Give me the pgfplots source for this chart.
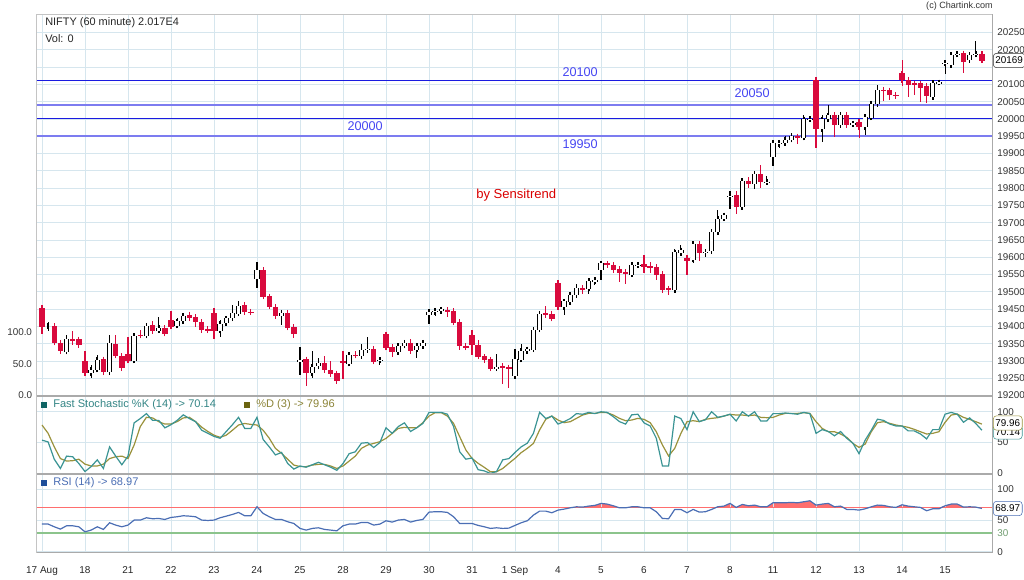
\documentclass[border=0pt]{standalone}
\usepackage{fontspec}
\setmainfont{Liberation Sans}
\usepackage{pgfplots}
\pgfplotsset{compat=1.18}
\usepackage{pgfplotstable}

\definecolor{candred}{HTML}{D90A3D}
\definecolor{gridblue}{HTML}{D6E6EE}
\definecolor{framegray}{HTML}{C4C4C4}
\definecolor{sepgray}{HTML}{AAAAAA}
\definecolor{levelblue}{HTML}{1A1AE0}
\definecolor{levellight}{HTML}{7C7CF0}
\definecolor{labelblue}{HTML}{4646F2}
\definecolor{kteal}{HTML}{3A9494}
\definecolor{dolive}{HTML}{9A923C}
\definecolor{ksquare}{HTML}{0F6464}
\definecolor{dsquare}{HTML}{6B6410}
\definecolor{rsiblue}{HTML}{4B6EB4}
\definecolor{rsisquare}{HTML}{1F4E9A}
\definecolor{obred}{HTML}{FF6E6E}
\definecolor{osgreen}{HTML}{8CC48C}
\definecolor{ticktext}{HTML}{333333}

% candles: i open high low close
\pgfplotstableread{
i o h l c
1 19401 19413 19386 19401
4 19327 19375 19326 19365
8 19264 19288 19251 19275
9 19275 19317 19269 19304
11 19267 19375 19259 19353
15 19301 19377 19299 19373
17 19373 19408 19370 19402
19 19388 19427 19384 19396
22 19402 19423 19400 19415
23 19415 19440 19409 19431
29 19388 19418 19370 19407
30 19410 19428 19406 19423
31 19423 19463 19421 19439
32 19437 19473 19432 19459
35 19536 19585 19510 19563
39 19431 19442 19404 19440
42 19296 19341 19259 19304
44 19264 19328 19251 19283
45 19284 19309 19278 19294
50 19292 19324 19290 19317
52 19314 19348 19310 19333
53 19334 19370 19322 19336
55 19301 19307 19288 19303
58 19325 19348 19322 19344
59 19344 19360 19342 19353
61 19333 19346 19309 19343
62 19343 19357 19341 19353
63 19432 19445 19406 19442
64 19441 19449 19429 19446
65 19444 19451 19442 19449
74 19278 19321 19273 19284
77 19256 19334 19254 19305
78 19304 19348 19302 19329
79 19328 19341 19323 19334
80 19333 19393 19331 19391
81 19391 19442 19387 19437
85 19456 19474 19432 19472
86 19471 19495 19469 19492
87 19490 19522 19488 19512
89 19509 19535 19495 19531
90 19530 19541 19519 19535
91 19564 19583 19533 19582
96 19550 19582 19548 19579
97 19578 19584 19572 19579
103 19505 19625 19503 19614
104 19612 19635 19606 19620
106 19593 19639 19582 19638
108 19614 19622 19601 19616
109 19618 19675 19615 19673
110 19672 19738 19670 19712
111 19712 19728 19709 19721
112 19776 19792 19741 19778
114 19745 19823 19741 19821
116 19811 19844 19796 19842
118 19818 19834 19817 19819
119 19890 19940 19863 19931
120 19928 19940 19917 19931
121 19930 19950 19927 19940
122 19940 19960 19938 19950
124 19946 20011 19943 19999
125 19999 20006 19996 20001
127 19970 20011 19934 19999
128 19999 20040 19992 20011
130 19982 20016 19979 20013
132 19985 19992 19977 19987
134 19977 20008 19955 20006
135 20004 20047 19997 20043
136 20043 20098 20040 20085
145 20064 20112 20061 20105
146 20105 20112 20102 20106
147 20160 20165 20130 20162
148 20156 20190 20149 20185
149 20186 20197 20180 20188
151 20170 20187 20161 20185
152 20186 20226 20182 20188
}\upcandles

\pgfplotstableread{
i o h l c
0 19452 19463 19379 19399
2 19402 19402 19346 19353
3 19353 19357 19326 19329
5 19363 19386 19346 19360
6 19363 19365 19341 19346
7 19301 19328 19257 19264
10 19305 19307 19264 19267
12 19350 19375 19312 19315
13 19315 19319 19276 19280
14 19321 19369 19296 19301
16 19376 19389 19367 19373
18 19404 19416 19384 19387
20 19396 19401 19377 19379
21 19418 19444 19396 19399
24 19434 19437 19420 19423
25 19427 19431 19399 19413
26 19413 19415 19382 19390
27 19392 19398 19384 19388
28 19439 19452 19365 19388
33 19463 19468 19440 19442
34 19443 19449 19437 19440
36 19563 19567 19481 19486
37 19487 19490 19450 19457
38 19457 19461 19423 19430
40 19440 19442 19392 19396
41 19398 19399 19367 19379
43 19305 19305 19228 19264
46 19294 19314 19271 19273
47 19273 19299 19259 19262
48 19264 19269 19232 19243
49 19300 19328 19249 19294
51 19318 19328 19312 19315
54 19336 19338 19293 19298
56 19377 19379 19336 19338
57 19340 19344 19312 19325
60 19353 19363 19326 19329
66 19447 19448 19427 19443
67 19445 19447 19408 19411
68 19413 19413 19333 19342
69 19343 19350 19331 19339
70 19375 19389 19316 19345
71 19347 19360 19307 19312
72 19313 19316 19297 19302
73 19305 19307 19275 19278
75 19285 19285 19233 19282
76 19282 19285 19223 19279
82 19439 19458 19425 19435
83 19437 19439 19420 19422
84 19526 19528 19453 19456
88 19511 19516 19493 19506
92 19582 19589 19572 19578
93 19578 19581 19553 19564
94 19566 19572 19529 19555
95 19557 19562 19524 19553
98 19580 19606 19555 19572
99 19574 19586 19555 19572
100 19572 19574 19533 19550
101 19553 19555 19497 19506
102 19510 19514 19492 19508
105 19599 19606 19548 19589
107 19638 19641 19589 19613
113 19779 19792 19726 19746
115 19820 19832 19801 19813
117 19840 19866 19801 19818
123 19950 19958 19929 19946
126 20114 20114 19915 19970
129 20011 20016 19949 19982
131 20011 20021 19975 19982
133 19992 19997 19944 19977
137 20085 20093 20053 20081
138 20083 20085 20056 20069
139 20070 20074 20059 20066
140 20132 20170 20095 20112
141 20114 20122 20064 20098
142 20103 20108 20069 20098
143 20103 20106 20050 20091
144 20095 20103 20045 20067
150 20190 20191 20134 20165
153 20188 20190 20164 20169
}\downcandles

% oscillators: i  %K  %D  RSI
\pgfplotstableread{
i k d r
0 54 78.5 44
1 51 65 44
2 23 43 39.7
3 8 24 36
4 28 20 41.3
5 27 20.6 41.3
6 16 23 39.7
7 3 15 31.7
8 11 12 34.4
9 22 12 39.7
10 8 15 35.5
11 43 24 46.1
12 28 27 42.4
13 14 28 39.7
14 28 24 42.4
15 82 46 50.4
16 89 76 50.4
17 97 91 54.1
18 86 90 52.5
19 86 84 53
20 74 80 51.4
21 79 80 54.6
22 86 84 55.7
23 95 90 57.3
24 89 91 56.7
25 84 84 55.7
26 70 75 50.4
27 65 68 49.8
28 60 62 50.4
29 57 58.5 54.1
30 68 62 56.7
31 79 70 59.4
32 91 78.5 62.6
33 73 81 57.3
34 73 79.5 57.3
35 91 78.5 71.6
36 55 70 61
37 43 57 55.7
38 30 40.6 51.4
39 34 32.5 51.4
40 16 23 47.7
41 7 13.5 45
42 12 11 37.1
43 10 11 34.4
44 14 13.5 37.1
45 18 14.6 38.1
46 14 14.6 35.5
47 10 12 34.4
48 5 8 33.3
49 16 12 41.3
50 32 20 44
51 35 28 44
52 49 40.6 46.6
53 50 46 46.6
54 42 48.7 42.4
55 50 51.4 44
56 74 56.8 49.3
57 65 64.9 47.2
58 76 73 50.4
59 82 74.7 51.4
60 68 74 47.2
61 74 74 49.8
62 81 82.3 51.4
63 99 93 63.1
64 99 98.5 63.7
65 99 98.5 63.7
66 96 93 62.6
67 76 81 55.7
68 35 59.5 45
69 23 38 45
70 25 24.4 45
71 6 16.3 41.9
72 4 9.8 39.7
73 0 2.7 37.1
74 3 2.7 38.1
75 22 8 37.1
76 24 16.3 37.6
77 34 24.4 41.9
78 43 33.6 46.1
79 49 40.6 49.3
80 65 48.7 58.3
81 99 70.4 64.7
82 89 87.7 64.7
83 93 93 62.1
84 80 86.6 66.3
85 84 82.3 67.9
86 89 83.9 70
87 97 89.3 71.6
88 96 94.7 71.1
89 99 97.4 72.7
90 97 97.4 73.8
91 100 99 77
92 99 98.5 75.9
93 92 94.7 73.2
94 84 89.3 70
95 80 85.5 70
96 95 86.6 71.6
97 96 89.3 71.6
98 82 87.7 70
99 77 82.3 70
100 57 67.6 63.7
101 12 46 53
102 12 28.2 52.5
103 93 40.6 67.4
104 89 64.9 67.4
105 71 83.9 62.1
106 100 85.5 67.4
107 84 84 63.1
108 87 87.7 63.7
109 100 89.3 67.4
110 91 90.4 71.6
111 93 93 72.7
112 96 95.8 77
113 85 94.7 70.6
114 100 94.7 75.4
115 93 93.6 73.2
116 100 94.7 74.3
117 85 90.9 71.6
118 85 90.4 71.6
119 97 90.9 78
120 97 94.7 78
121 98 97.4 78
122 97 97.4 78.6
123 96 97.4 78
124 99 98.5 79.6
125 97 97.4 81.2
126 65 83.9 74.3
127 71 73 75.9
128 68 67.6 77
129 61 67.6 71.6
130 68 63.9 72.7
131 57 58.5 67.4
132 49 48.7 67.4
133 32 42.2 66.3
134 54 47.6 68.4
135 70 67.6 71.6
136 88 82.3 74.3
137 86 83.9 73.8
138 80 81.2 71.6
139 77 78.5 70.6
140 77 76.8 74.8
141 69 74.7 72.7
142 69 71.4 71.6
143 64 67.6 70.6
144 56 63.9 65.3
145 71 65 68.4
146 71 67.6 68.4
147 96 82.8 73.2
148 99 94.7 75.9
149 96 96.3 75.9
150 83 90.9 71.1
151 90 87.7 71.6
152 81 83.9 71.1
153 70.14 79.96 68.97
}\osc

\pgfplotsset{
  panel/.style={
    scale only axis, width=717pt, anchor=north west,
    xmin=-0.86, xmax=154.76,
    xtick={0,7,...,147},
    major tick length=0pt, minor tick length=0pt,
    grid=major, major grid style={gridblue, line width=0.6pt},
    axis line style={framegray, line width=1pt},
    tick label style={font=\fontsize{7.4}{8}\selectfont, text=ticktext},
    /pgf/number format/assume math mode=true,
    yticklabel pos=right,
    scaled y ticks=false,
  },
}

\begin{document}
\begin{tikzpicture}[x=0.75pt,y=0.75pt]
\useasboundingbox (0,0) rectangle (1024,579);

% ---- price panel ----
\begin{axis}[panel, at={(27.525pt,423.525pt)}, height=285.9pt,
  ymin=19200, ymax=20302.8, ytick={19200,19250,...,20250},
  yticklabels={19200,19250,19300,19350,19400,19450,19500,19550,19600,19650,19700,19750,19800,19850,19900,19950,20000,20050,20100,{},20200,20250},
  xticklabels={}]

\addplot[levelblue, line width=0.75pt] coordinates {(-0.86,20111) (154.76,20111)};
\addplot[levellight, line width=1.6pt] coordinates {(-0.86,20040) (154.76,20040)};
\addplot[levelblue, line width=0.75pt] coordinates {(-0.86,20000) (154.76,20000)};
\addplot[levellight, line width=1.6pt] coordinates {(-0.86,19950) (154.76,19950)};

% wicks
\addplot[draw=none, error bars/.cd, y dir=both, y explicit, error mark=none,
  error bar style={draw=candred, line width=0.8pt}]
  table[x=i, y expr={(\thisrow{h}+\thisrow{l})/2}, y error expr={(\thisrow{h}-\thisrow{l})/2}] {\downcandles};
\addplot[draw=none, error bars/.cd, y dir=both, y explicit, error mark=none,
  error bar style={draw=black, line width=0.8pt}]
  table[x=i, y expr={(\thisrow{h}+\thisrow{l})/2}, y error expr={(\thisrow{h}-\thisrow{l})/2}] {\upcandles};

% bodies
\addplot[draw=none, error bars/.cd, y dir=both, y explicit, error mark=-,
  error mark options={draw=candred, line width=0.9pt, mark size=2pt},
  error bar style={draw=candred, line width=4pt}]
  table[x=i, y expr={(\thisrow{o}+\thisrow{c})/2}, y error expr={abs(\thisrow{c}-\thisrow{o})/2}] {\downcandles};
\addplot[draw=none, error bars/.cd, y dir=both, y explicit, error mark=-,
  error mark options={draw=black, line width=1.3pt, mark size=2pt},
  error bar style={draw=black, line width=4pt}]
  table[x=i, y expr={(\thisrow{o}+\thisrow{c})/2}, y error expr={abs(\thisrow{c}-\thisrow{o})/2}] {\upcandles};
\addplot[draw=none, error bars/.cd, y dir=both, y explicit, error mark=none,
  error bar style={draw=white, line width=2.6pt}]
  table[x=i, y expr={(\thisrow{o}+\thisrow{c})/2}, y error expr={abs(\thisrow{c}-\thisrow{o})/2}] {\upcandles};

\node[text=labelblue, font=\fontsize{9.5}{10}\selectfont] at (axis cs:87.6,20135) {20100};
\node[text=labelblue, font=\fontsize{9.5}{10}\selectfont] at (axis cs:115.6,20075) {20050};
\node[text=labelblue, font=\fontsize{9.5}{10}\selectfont] at (axis cs:52.6,19979) {20000};
\node[text=labelblue, font=\fontsize{9.5}{10}\selectfont] at (axis cs:87.6,19927) {19950};
\node[text=red!85!black, font=\fontsize{9.8}{10}\selectfont] at (axis cs:77.2,19779) {by Sensitrend};
\end{axis}

% ---- volume scale (left) ----
\begin{axis}[scale only axis, width=717pt, height=285.9pt, anchor=north west,
  at={(27.525pt,423.525pt)}, xmin=0, xmax=1, ymin=0, ymax=605,
  hide x axis, axis y line*=left, axis line style={draw=none},
  ytick={0,50,100}, yticklabels={0.0,50.0,100.0}, major tick length=0pt,
  tick label style={font=\fontsize{7.4}{8}\selectfont, text=ticktext}]
\addplot[draw=none] coordinates {(0,0) (1,1)};
\end{axis}

% ---- stochastic panel ----
\begin{axis}[panel, at={(27.525pt,137.625pt)}, height=58.875pt,
  ymin=-1, ymax=126.4, ytick={0,50,100}, xticklabels={}]
\addplot[dolive, line width=0.9pt] table[x=i, y=d] {\osc};
\addplot[kteal, line width=0.9pt] table[x=i, y=k] {\osc};
\end{axis}

% ---- RSI overbought fill (stacked above the 70 level) ----
\begin{axis}[scale only axis, width=717pt, height=58.725pt, anchor=north west,
  at={(27.525pt,78.75pt)}, xmin=-0.86, xmax=154.76, ymin=-1, ymax=123.9,
  hide axis, stack plots=y]
\addplot[draw=none] table[x=i, y expr={70}] {\osc};
\addplot[fill=obred, draw=none] table[x=i, y expr={max(\thisrow{r},70)-70}] {\osc} \closedcycle;
\end{axis}

% ---- RSI panel ----
\begin{axis}[panel, at={(27.525pt,78.75pt)}, height=58.725pt,
  ymin=-1, ymax=123.9, ytick={0,30,50,100},
  yticklabels={0,\textcolor{osgreen!80!black}{30},50,100},
  xticklabels={17 Aug,18,21,22,23,24,25,28,29,30,31,1 Sep,4,5,6,7,8,11,12,13,14,15},
  xticklabel style={yshift=-7.5pt, font=\fontsize{7.5}{8}\selectfont, text=black!85}]
\addplot[obred, line width=0.7pt] coordinates {(-0.86,70) (154.76,70)};
\addplot[osgreen, line width=1.5pt] coordinates {(-0.86,30) (154.76,30)};
\addplot[rsiblue, line width=0.9pt] table[x=i, y=r] {\osc};
\end{axis}

% ---- frame separators ----
\draw[sepgray, line width=1.5pt] (36.7,183.5) -- (992.7,183.5);
\draw[sepgray, line width=1.5pt] (36.7,105) -- (992.7,105);
\draw[sepgray, line width=1pt] (36.7,26.7) -- (992.7,26.7);
\draw[sepgray, line width=1pt] (992.7,26.7) -- (992.7,564.7);

% ---- texts ----
\node[anchor=west, font=\fontsize{8.2}{9}\selectfont, text=black!85, inner sep=0pt] at (45,556) {NIFTY (60 minute) 2.017E4};
\node[anchor=west, font=\fontsize{8.2}{9}\selectfont, text=black!85, inner sep=0pt] at (45,540) {Vol: 0};
\node[anchor=east, font=\fontsize{6.8}{8}\selectfont, text=black!80, inner sep=0pt] at (993,572.5) {(c) Chartink.com};

\fill[ksquare] (41,171) rectangle (47,177);
\node[anchor=west, font=\fontsize{8.3}{9}\selectfont, text=kteal!90!black, inner sep=0pt] at (53,174) {Fast Stochastic \%K (14) -> 70.14};
\fill[dsquare] (244,171) rectangle (250,177);
\node[anchor=west, font=\fontsize{8.3}{9}\selectfont, text=dolive!90!black, inner sep=0pt] at (256,174) {\%D (3) -> 79.96};
\fill[rsisquare] (41,93) rectangle (47,99);
\node[anchor=west, font=\fontsize{8.3}{9}\selectfont, text=rsiblue, inner sep=0pt] at (53,96) {RSI (14) -> 68.97};

% value boxes
\node[anchor=west, draw=black!80, fill=white, rounded corners=2.5pt, inner xsep=1.6pt, inner ysep=2.8pt, font=\fontsize{7.4}{8}\selectfont] at (993,518.5) {20169};
\node[anchor=west, draw=kteal, fill=white, rounded corners=2.5pt, inner xsep=1.6pt, inner ysep=2.8pt, font=\fontsize{7.4}{8}\selectfont] at (993,147) {70.14};
\node[anchor=west, draw=dolive, fill=white, rounded corners=2.5pt, inner xsep=1.6pt, inner ysep=2.8pt, font=\fontsize{7.4}{8}\selectfont] at (993,156) {79.96};
\node[anchor=west, draw=rsiblue, fill=white, rounded corners=2.5pt, inner xsep=1.6pt, inner ysep=2.8pt, font=\fontsize{7.4}{8}\selectfont] at (993,70.5) {68.97};
\end{tikzpicture}
\end{document}
